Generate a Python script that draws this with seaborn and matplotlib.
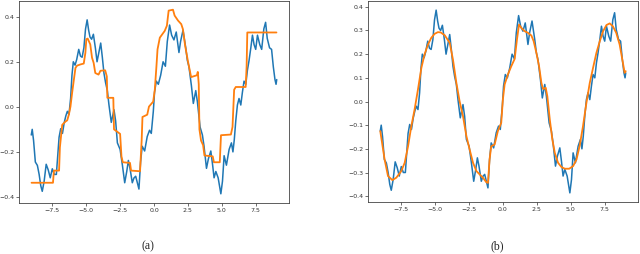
import numpy as np
import matplotlib
matplotlib.use("Agg")
import matplotlib.pyplot as plt
import seaborn as sns

# noisy signal (same in both panels)
signal_x = [-9.05, -8.98, -8.88, -8.75, -8.6, -8.47, -8.35, -8.24, -8.1, -7.95, -7.8, -7.65,
            -7.5, -7.35, -7.2, -7.1, -7.0, -6.88, -6.75, -6.62, -6.5, -6.39, -6.27, -6.15,
            -6.05, -5.95, -5.82, -5.7, -5.55, -5.42, -5.3, -5.17, -5.05, -4.93, -4.82, -4.72,
            -4.6, -4.47, -4.32, -4.2, -4.07, -3.93, -3.81, -3.69, -3.57, -3.44, -3.32, -3.15,
            -2.95, -2.83, -2.7, -2.5, -2.33, -2.16, -2.01, -1.89, -1.77, -1.6, -1.48, -1.35,
            -1.23, -1.11, -0.99, -0.87, -0.69, -0.5, -0.33, -0.2, -0.05, 0.04, 0.17, 0.32,
            0.49, 0.67, 0.84, 0.98, 1.15, 1.3, 1.47, 1.64, 1.84, 1.96, 2.14, 2.34,
            2.46, 2.58, 2.76, 2.9, 3.08, 3.2, 3.4, 3.57, 3.69, 3.87, 4.01, 4.19,
            4.31, 4.43, 4.56, 4.73, 4.93, 5.05, 5.17, 5.34, 5.54, 5.71, 5.82, 5.92,
            6.03, 6.15, 6.27, 6.4, 6.52, 6.64, 6.77, 6.89, 7.01, 7.14, 7.26, 7.38,
            7.5, 7.63, 7.8, 7.94, 8.1, 8.23, 8.35, 8.52, 8.67, 8.8, 8.92, 9.0, 9.05]
signal_y = [-0.125, -0.10, -0.15, -0.245, -0.26, -0.30, -0.35, -0.375, -0.33, -0.255, -0.28, -0.315,
            -0.275, -0.30, -0.30, -0.22, -0.135, -0.097, -0.118, -0.07, -0.04, -0.02, -0.034, 0.037,
            0.14, 0.20, 0.185, 0.21, 0.255, 0.225, 0.22, 0.262, 0.345, 0.386, 0.34, 0.31,
            0.30, 0.322, 0.26, 0.20, 0.24, 0.283, 0.22, 0.149, 0.107, 0.072, 0.008, -0.069,
            -0.013, -0.062, -0.16, -0.189, -0.259, -0.337, -0.287, -0.238, -0.273, -0.337, -0.316, -0.308,
            -0.337, -0.365, -0.245, -0.175, -0.196, -0.132, -0.104, -0.118, -0.02, 0.065, 0.114, 0.10,
            0.14, 0.20, 0.18, 0.29, 0.363, 0.318, 0.297, 0.332, 0.241, 0.29, 0.34, 0.262,
            0.206, 0.177, 0.093, 0.015, 0.072, 0.022, -0.09, -0.125, -0.175, -0.273, -0.231, -0.196,
            -0.252, -0.315, -0.287, -0.315, -0.386, -0.33, -0.217, -0.259, -0.189, -0.16, -0.20, -0.146,
            -0.062, 0.008, 0.037, 0.008, 0.065, 0.114, 0.10, 0.163, 0.206, 0.262, 0.318, 0.276,
            0.255, 0.318, 0.276, 0.255, 0.346, 0.375, 0.304, 0.262, 0.255, 0.177, 0.121, 0.10, 0.121]

# (a) step-like fit
fit_a_x = [-9.03, -7.45, -7.38, -7.0, -6.94, -6.77, -6.52, -6.4, -6.28, -6.16, -6.04, -5.91,
           -5.79, -5.67, -5.43, -5.18, -5.06, -4.99, -4.89, -4.7, -4.57, -4.45, -4.33, -4.09,
           -3.95, -3.6, -3.48, -3.44, -3.0, -2.95, -2.5, -2.4, -2.3, -1.77, -1.69, -1.03,
           -0.91, -0.85, -0.5, -0.37, -0.06, 0.06, 0.18, 0.26, 0.43, 0.79, 0.95, 1.08,
           1.4, 1.52, 1.77, 2.01, 2.13, 2.3, 2.5, 2.7, 2.74, 3.16, 3.23, 3.3,
           3.35, 3.47, 3.62, 3.72, 4.33, 4.42, 4.85, 4.94, 5.67, 5.79, 5.91, 6.03,
           6.76, 6.83, 6.88, 9.03]
fit_a_y = [-0.337, -0.337, -0.283, -0.283, -0.18, -0.08, -0.065, -0.06, -0.035, 0.001, 0.061, 0.12,
           0.173, 0.183, 0.188, 0.192, 0.24, 0.30, 0.303, 0.277, 0.218, 0.195, 0.15, 0.143,
           0.16, 0.162, 0.135, 0.04, 0.04, -0.10, -0.12, -0.22, -0.246, -0.249, -0.283, -0.286,
           -0.149, -0.045, -0.035, 0.001, 0.023, 0.076, 0.18, 0.255, 0.307, 0.337, 0.36, 0.427,
           0.431, 0.405, 0.383, 0.367, 0.345, 0.27, 0.203, 0.143, 0.132, 0.14, 0.155, 0.10,
           -0.10, -0.15, -0.17, -0.216, -0.22, -0.246, -0.246, -0.126, -0.123, -0.089, 0.076, 0.088,
           0.088, 0.18, 0.33, 0.33]

# (b) smooth fit
fit_b_x = [-9.05, -8.73, -8.48, -8.16, -7.87, -7.5, -7.25, -7.0, -6.76, -6.52, -6.27, -6.02,
           -5.78, -5.53, -5.29, -5.04, -4.8, -4.6, -4.3, -3.93, -3.69, -3.44, -3.2, -2.95,
           -2.7, -2.46, -2.21, -1.96, -1.72, -1.48, -1.23, -1.11, -0.99, -0.87, -0.62, -0.38,
           -0.13, -0.01, 0.12, 0.36, 0.61, 0.86, 1.03, 1.18, 1.35, 1.6, 1.84, 2.09,
           2.26, 2.46, 2.66, 2.83, 2.95, 3.15, 3.27, 3.45, 3.64, 3.82, 4.06, 4.31,
           4.56, 4.88, 5.17, 5.42, 5.66, 5.9, 6.15, 6.4, 6.64, 6.89, 7.14, 7.38,
           7.63, 7.87, 8.1, 8.35, 8.6, 8.8, 8.97, 9.05]
fit_b_y = [-0.125, -0.245, -0.315, -0.332, -0.322, -0.294, -0.259, -0.189, -0.104, -0.034, 0.051, 0.142,
           0.20, 0.241, 0.269, 0.286, 0.293, 0.292, 0.28, 0.248, 0.177, 0.079, 0.001, -0.062,
           -0.146, -0.203, -0.259, -0.294, -0.308, -0.322, -0.341, -0.344, -0.245, -0.189, -0.182, -0.125,
           -0.09, 0.008, 0.072, 0.114, 0.149, 0.18, 0.262, 0.325, 0.311, 0.297, 0.29, 0.279,
           0.255, 0.206, 0.149, 0.079, 0.053, 0.058, 0.022, -0.076, -0.161, -0.217, -0.259, -0.277,
           -0.284, -0.284, -0.273, -0.245, -0.185, -0.104, -0.006, 0.079, 0.142, 0.206, 0.255, 0.297,
           0.323, 0.33, 0.318, 0.29, 0.241, 0.177, 0.121, 0.128]

x_ticks = [-7.5, -5.0, -2.5, 0.0, 2.5, 5.0, 7.5]
y_ticks_a = [-0.4, -0.2, 0.0, 0.2, 0.4]
y_ticks_b = [-0.4, -0.3, -0.2, -0.1, 0.0, 0.1, 0.2, 0.3, 0.4]
captions = ["(a)", "(b)"]

sns.set_theme(style="ticks")
plt.rcParams["font.family"] = ["DejaVu Sans"]

fig = plt.figure(figsize=(6.4, 2.54), dpi=100)
ax_a = fig.add_axes([19 / 640, 1 - 203 / 254, 270 / 640, 203 / 254 - 0.002])
ax_b = fig.add_axes([368 / 640, 1 - 202 / 254, 270 / 640, 201 / 254])

panels = [(ax_a, fit_a_x, fit_a_y, y_ticks_a), (ax_b, fit_b_x, fit_b_y, y_ticks_b)]
for ax, fx, fy, yt in panels:
    sns.lineplot(x=signal_x, y=signal_y, ax=ax, color="#1f77b4", linewidth=1.1,
                 estimator=None, sort=False)
    sns.lineplot(x=fx, y=fy, ax=ax, color="#ff7f0e", linewidth=1.3,
                 estimator=None, sort=False)
    ax.set_xticks(x_ticks)
    ax.set_yticks(yt)
    ax.tick_params(labelsize=4.5, length=2, width=0.5, pad=1.5, colors="#333333")
    for s in ax.spines.values():
        s.set_linewidth(0.6)
        s.set_color("#444444")
    ax.set_xlabel("")
    ax.set_ylabel("")

for ax, cap in zip([ax_a, ax_b], captions):
    pos = ax.get_position()
    fig.text(pos.x0 + pos.width / 2 - 6 / 640, 1 - 246 / 254, cap, ha="center", va="center",
             fontsize=8.5, family="Liberation Serif")

fig.savefig("out.png", dpi=100)
